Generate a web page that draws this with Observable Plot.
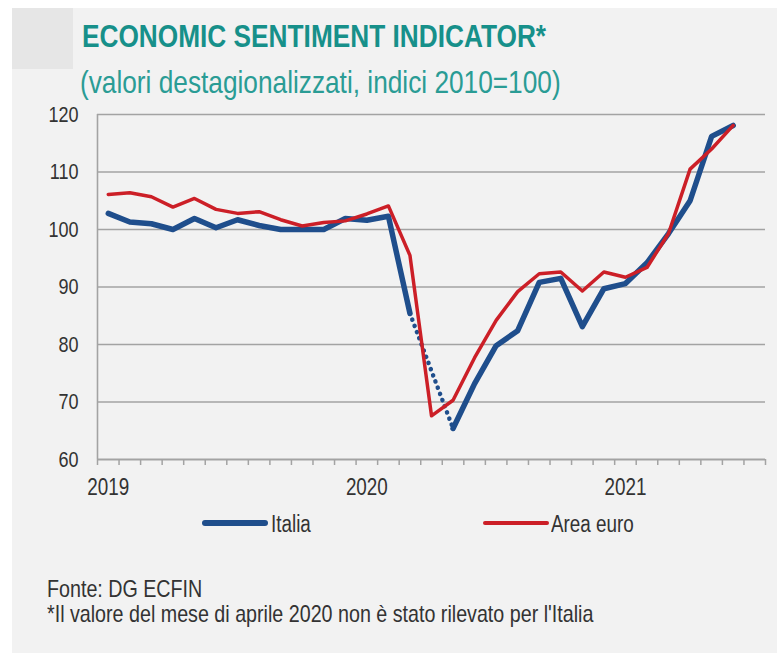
<!DOCTYPE html>
<html>
<head>
<meta charset="utf-8">
<script src="https://cdn.jsdelivr.net/npm/d3@7"></script>
<script src="https://cdn.jsdelivr.net/npm/@observablehq/plot@0.6"></script>
<style>
  body { margin: 0; background: #ffffff; }
  #wrap { position: relative; width: 777px; height: 653px; overflow: hidden;
    font-family: "Liberation Sans", Arial, sans-serif; color: #333; }
  #panel { position: absolute; left: 12px; top: 8px; width: 765px; height: 645px; background: #f2f2f2; }
  #block { position: absolute; left: 12px; top: 8px; width: 61px; height: 61px; background: #e6e6e6; }
  .t { position: absolute; white-space: nowrap; line-height: 1; transform: scaleX(0.82); transform-origin: 0 0; }
  #title { left: 82px; top: 20px; font-size: 32px; font-weight: bold; color: #17908a; }
  #subtitle { left: 80px; top: 66px; font-size: 32px; color: #2a9c95; }
  #chart { position: absolute; left: 0; top: 0; }
  .sw { position: absolute; border-radius: 3px; }
  .lab { top: 513px; font-size: 23px; }
  #foot1 { left: 47px; top: 577px; font-size: 24px; }
  #foot2 { left: 47px; top: 602px; font-size: 24px; }
</style>
</head>
<body>
<div id="wrap">
  <div id="panel"></div>
  <div id="block"></div>
  <div id="chart"></div>
  <div class="t" id="title">ECONOMIC SENTIMENT INDICATOR*</div>
  <div class="t" id="subtitle">(valori destagionalizzati, indici 2010=100)</div>
  <div class="sw" style="left:202px;top:520px;width:66px;height:6px;background:#1f4e8c"></div>
  <div class="t lab" style="left:271px">Italia</div>
  <div class="sw" style="left:483px;top:521px;width:66px;height:4px;background:#cc1f27"></div>
  <div class="t lab" style="left:551px">Area euro</div>
  <div class="t" id="foot1">Fonte: DG ECFIN</div>
  <div class="t" id="foot2">*Il valore del mese di aprile 2020 non è stato rilevato per l'Italia</div>
</div>
<script>
// Months (Jan 2019 – Jun 2021); the category axis runs one extra month (Jul 2021)
const months = [
  "2019-01","2019-02","2019-03","2019-04","2019-05","2019-06","2019-07","2019-08","2019-09","2019-10","2019-11","2019-12",
  "2020-01","2020-02","2020-03","2020-04","2020-05","2020-06","2020-07","2020-08","2020-09","2020-10","2020-11","2020-12",
  "2021-01","2021-02","2021-03","2021-04","2021-05","2021-06"
];
const axisMonths = [...months, "2021-07"];
// Italia (April 2020 not surveyed)
const italia = [
  102.8, 101.3, 101.0, 100.0, 101.9, 100.3, 101.7, 100.7, 100.0, 100.0, 100.0, 101.9,
  101.6, 102.3, 85.4, null, 65.4, 73.2, 79.8, 82.4, 90.8, 91.5, 83.1, 89.7,
  90.6, 94.2, 99.3, 105.0, 116.2, 118.1
];
// Area euro
const areaEuro = [
  106.1, 106.4, 105.7, 103.9, 105.4, 103.5, 102.8, 103.1, 101.7, 100.6, 101.2, 101.5,
  102.7, 104.1, 95.5, 67.6, 70.3, 77.7, 84.2, 89.2, 92.3, 92.6, 89.3, 92.6,
  91.7, 93.4, 99.3, 110.5, 114.0, 118.1
];
const yTicks = [60, 70, 80, 90, 100, 110, 120];
const yearLabels = ["2019", "2020", "2021"];

const rows = months.map((m, i) => ({ i, m, italia: italia[i], euro: areaEuro[i] }));
const pos = d => d.i + 0.5; // category centre
// dotted bridge over the missing Italian value
const gapRows = [];
rows.forEach((d, i) => {
  if (d.italia == null) { gapRows.push(rows[i - 1], rows[i + 1]); }
});
const yearIdx = yearLabels.map(y => axisMonths.indexOf(y + "-01") + 0.5);
const monthEdges = d3.range(0, axisMonths.length + 1);

const grid = "#a3a3a3";

const chart = Plot.plot({
  width: 777, height: 653,
  marginLeft: 97, marginRight: 12, marginTop: 114, marginBottom: 194,
  style: { background: "transparent", fontFamily: '"Liberation Sans", Arial, sans-serif', color: "#333", overflow: "visible" },
  x: { domain: [0, axisMonths.length], axis: null },
  y: { domain: [60, 120], axis: null },
  marks: [
    Plot.gridY(yTicks.filter(v => v > 60), { stroke: grid, strokeOpacity: 1, strokeWidth: 1.6 }),
    Plot.ruleX([0], { y1: 60, y2: 120, stroke: grid, strokeWidth: 1.6 }),
    Plot.ruleY([60], { stroke: grid, strokeWidth: 1.8 }),
    Plot.axisX(monthEdges, { tickSize: 6, tickFormat: () => "", stroke: grid, strokeWidth: 1.5 }),
    Plot.axisX(yearIdx, { tickSize: 0, tickPadding: 19, tickFormat: (v, k) => yearLabels[k], fontSize: 23, fill: "#333" }),
    Plot.axisY(yTicks, { tickSize: 0, tickPadding: 19, fontSize: 22, fill: "#333" }),
    Plot.line(rows, { x: pos, y: "italia", stroke: "#1f4e8c", strokeWidth: 5.5 }),
    Plot.line(gapRows, { x: pos, y: "italia", stroke: "#1f4e8c", strokeWidth: 4.5, strokeDasharray: "0.1,6.5", strokeLinecap: "round" }),
    Plot.line(rows, { x: pos, y: "euro", stroke: "#cc1f27", strokeWidth: 3.5 })
  ]
});
// narrow the axis labels horizontally (Arial Narrow look) around their anchor
chart.querySelectorAll("text").forEach(t => {
  const tr = t.getAttribute("transform") || "";
  t.setAttribute("transform", `${tr} scale(0.82,1)`);
});
document.getElementById("chart").appendChild(chart);
</script>
</body>
</html>
